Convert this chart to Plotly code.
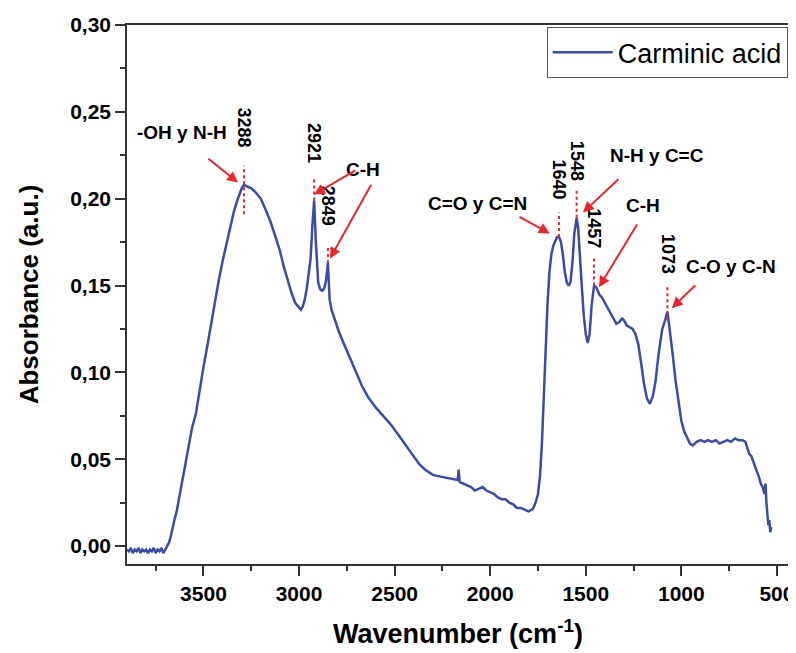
import plotly.graph_objects as go

# ---- data ----
wavenumber = [3900, 3890, 3880, 3870, 3860, 3850, 3840, 3830, 3820, 3810, 3800, 3790, 3780, 3770,
              3760, 3750, 3740, 3730, 3720, 3710, 3700, 3690, 3680, 3670, 3660, 3650, 3640, 3630,
              3620, 3600, 3580, 3560, 3540, 3520, 3500, 3480, 3460, 3440, 3420, 3400, 3380, 3360,
              3340, 3320, 3300, 3288, 3270, 3250, 3230, 3200, 3180, 3150, 3120, 3100, 3080, 3060,
              3040, 3020, 3000, 2990, 2980, 2970, 2960, 2950, 2940, 2930, 2921, 2912, 2900, 2890,
              2880, 2870, 2860, 2849, 2840, 2830, 2810, 2790, 2760, 2730, 2700, 2670, 2640, 2600,
              2560, 2520, 2480, 2440, 2400, 2370, 2340, 2300, 2260, 2220, 2180, 2170, 2165, 2160,
              2140, 2120, 2100, 2080, 2060, 2040, 2020, 2000, 1980, 1960, 1940, 1920, 1900, 1880,
              1860, 1840, 1820, 1800, 1780, 1770, 1760, 1750, 1740, 1730, 1720, 1710, 1700, 1690,
              1680, 1670, 1660, 1650, 1640, 1630, 1620, 1610, 1600, 1590, 1580, 1570, 1560, 1548,
              1540, 1530, 1520, 1510, 1500, 1490, 1480, 1470, 1460, 1457, 1445, 1430, 1415, 1400,
              1385, 1370, 1355, 1340, 1325, 1310, 1300, 1285, 1270, 1255, 1240, 1225, 1210, 1195,
              1180, 1165, 1150, 1135, 1120, 1100, 1085, 1073, 1065, 1055, 1045, 1030, 1015, 1000,
              985, 970, 955, 940, 920, 900, 880, 860, 840, 820, 800, 780, 760, 740, 720, 700, 680,
              665, 655, 645, 635, 625, 615, 605, 595, 585, 575, 565, 560, 555, 550, 545, 540, 535, 530]
absorbance = [-0.002, -0.003, -0.001, -0.004, -0.002, -0.003, -0.001, -0.004, -0.002, -0.003, -0.002,
              -0.004, -0.002, -0.003, -0.001, -0.004, -0.002, -0.003, -0.001, -0.004, -0.002, 0.000,
              0.002, 0.006, 0.012, 0.016, 0.020, 0.026, 0.033, 0.045, 0.058, 0.068, 0.076, 0.090,
              0.103, 0.115, 0.128, 0.141, 0.153, 0.164, 0.174, 0.184, 0.193, 0.200, 0.206, 0.208,
              0.207, 0.206, 0.204, 0.200, 0.195, 0.187, 0.177, 0.170, 0.161, 0.153, 0.146, 0.140,
              0.137, 0.136, 0.138, 0.142, 0.148, 0.156, 0.165, 0.185, 0.199, 0.175, 0.152, 0.148,
              0.147, 0.148, 0.152, 0.163, 0.142, 0.136, 0.129, 0.123, 0.115, 0.107, 0.099, 0.092,
              0.086, 0.080, 0.075, 0.070, 0.064, 0.058, 0.052, 0.047, 0.044, 0.041, 0.040, 0.039,
              0.038, 0.038, 0.044, 0.037, 0.036, 0.035, 0.034, 0.032, 0.033, 0.034, 0.032, 0.031,
              0.030, 0.028, 0.027, 0.027, 0.025, 0.024, 0.022, 0.022, 0.021, 0.020, 0.021, 0.023,
              0.026, 0.030, 0.040, 0.058, 0.085, 0.115, 0.140, 0.158, 0.168, 0.173, 0.176, 0.178,
              0.178, 0.175, 0.168, 0.158, 0.152, 0.150, 0.152, 0.163, 0.180, 0.189, 0.183, 0.168,
              0.148, 0.132, 0.122, 0.117, 0.122, 0.138, 0.148, 0.150, 0.149, 0.145, 0.143, 0.140,
              0.137, 0.134, 0.131, 0.128, 0.129, 0.131, 0.130, 0.127, 0.126, 0.125, 0.122, 0.116,
              0.105, 0.093, 0.085, 0.082, 0.086, 0.095, 0.110, 0.125, 0.130, 0.135, 0.128, 0.120,
              0.110, 0.095, 0.082, 0.072, 0.066, 0.062, 0.059, 0.058, 0.060, 0.061, 0.060, 0.061,
              0.060, 0.061, 0.059, 0.060, 0.061, 0.060, 0.062, 0.061, 0.061, 0.060, 0.056, 0.053,
              0.052, 0.049, 0.047, 0.044, 0.040, 0.036, 0.034, 0.030, 0.036, 0.025, 0.018, 0.012,
              0.015, 0.008, 0.011]

peak_wn = [3288, 2921, 2849, 1640, 1548, 1457, 1073]
peak_abs = [0.208, 0.199, 0.163, 0.178, 0.189, 0.150, 0.135]
peak_labels = ["3288", "2921", "2849", "1640", "1548", "1457", "1073"]

band_labels = ["-OH y N-H", "C-H", "C=O y C=N", "N-H y C=C", "C-H", "C-O y C-N"]
band_label_wn = [3612, 2666, 2069, 1128, 1201, 741]
band_label_abs = [0.238, 0.217, 0.197, 0.225, 0.196, 0.161]

# arrows: (tip wn, tip abs, tail wn, tail abs)
arrow_tip_wn = [3319, 2922, 2838, 1688, 1515, 1431, 1050]
arrow_tip_abs = [0.2093, 0.2024, 0.1656, 0.180, 0.192, 0.149, 0.137]
arrow_tail_wn = [3482, 2697, 2619, 1855, 1322, 1227, 919]
arrow_tail_abs = [0.2237, 0.2168, 0.2087, 0.190, 0.212, 0.186, 0.151]

# dotted guide extents (below / above peak)
guide_below = [0.017, 0.0, 0.0, 0.0, 0.0, 0.0, 0.005]
guide_above = [0.011, 0.012, 0.010, 0.014, 0.016, 0.016, 0.014]

FONT = "Arial, Liberation Sans, sans-serif"
RED = "#e8262b"
BLUE = "#3a4ca8"

fig = go.Figure()
fig.add_trace(go.Scatter(x=wavenumber, y=absorbance, mode="lines", name="Carminic acid",
                         line=dict(color=BLUE, width=2.5)))

shapes = []
for wn, a, lo, hi in zip(peak_wn, peak_abs, guide_below, guide_above):
    shapes.append(dict(type="line", xref="x", yref="y", x0=wn, x1=wn, y0=a - lo, y1=a + hi,
                       line=dict(color=RED, width=2, dash="dot")))

annotations = []
for wn, a, lab in zip(peak_wn, peak_abs, peak_labels):
    annotations.append(dict(x=wn, y=a + 0.033, xref="x", yref="y", text=lab,
                            textangle=90, showarrow=False, xanchor="center", yanchor="middle",
                            font=dict(family=FONT, size=18, color="black", weight="bold")))
for wn, a, lab in zip(band_label_wn, band_label_abs, band_labels):
    annotations.append(dict(x=wn, y=a, xref="x", yref="y", text=lab,
                            showarrow=False, xanchor="center", yanchor="middle",
                            font=dict(family=FONT, size=19, color="black", weight="bold")))
for tx, ty, sx, sy in zip(arrow_tip_wn, arrow_tip_abs, arrow_tail_wn, arrow_tail_abs):
    annotations.append(dict(x=tx, y=ty, ax=sx, ay=sy, xref="x", yref="y", axref="x", ayref="y",
                            text="", showarrow=True, arrowhead=2, arrowsize=1.1, arrowwidth=2,
                            arrowcolor=RED, standoff=0))

axis_common = dict(showline=True, linecolor="#333333", linewidth=1.5, mirror=True,
                   ticks="outside", ticklen=10, tickwidth=1.5, tickcolor="#333333",
                   showgrid=False, zeroline=False, automargin=False,
                   tickfont=dict(family=FONT, size=21, color="black", weight="bold"))

# the page body adds an 8 px offset, so the figure is sized 8 px smaller
fig.update_layout(
    width=788, height=645,
    margin=dict(l=119, r=7, t=17, b=89),
    paper_bgcolor="white", plot_bgcolor="white",
    separators=",.",
    font=dict(family=FONT, color="black"),
    showlegend=True,
    legend=dict(x=0.998, y=0.996, xanchor="right", yanchor="top", itemwidth=60,
                bordercolor="#555555", borderwidth=1, bgcolor="white",
                font=dict(family=FONT, size=27, color="black")),
    shapes=shapes,
    annotations=annotations,
)
fig.update_xaxes(range=[3900, 437], dtick=500, tick0=500, tickformat="d",
                 minor=dict(dtick=250, ticks="outside", ticklen=5, tickwidth=1.5, tickcolor="#333333"),
                 title=dict(text="Wavenumber (cm<sup>-1</sup>)", standoff=20,
                            font=dict(family=FONT, size=27, color="black", weight="bold")),
                 **axis_common)
fig.update_yaxes(range=[-0.0103, 0.30], dtick=0.05, tick0=0, tickformat=".2f",
                 minor=dict(dtick=0.025, ticks="outside", ticklen=5, tickwidth=1.5, tickcolor="#333333"),
                 title=dict(text="Absorbance (a.u.)", standoff=24,
                            font=dict(family=FONT, size=26, color="black", weight="bold")),
                 **axis_common)

fig.write_html("out.html")
